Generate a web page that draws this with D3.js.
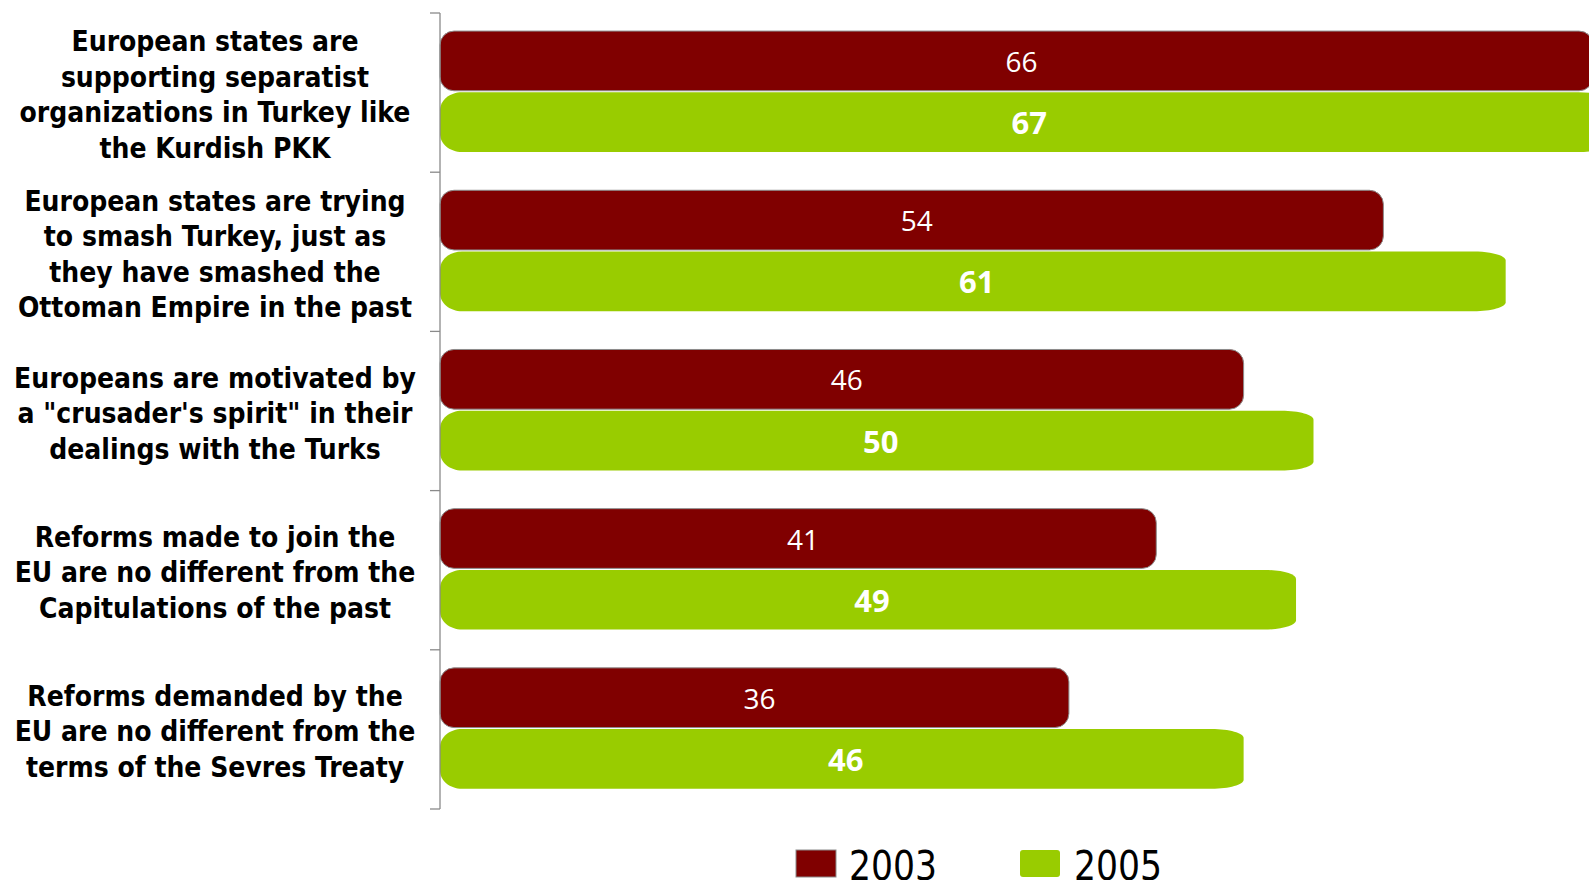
<!DOCTYPE html>
<html>
<head>
<meta charset="utf-8">
<script src="https://cdn.jsdelivr.net/npm/d3@7"></script>
<style>
  html, body { margin: 0; padding: 0; background: #fff; overflow: hidden; }
  svg { display: block; }
</style>
</head>
<body>
<svg id="chart" width="1589" height="880"></svg>
<script>
// ---- data ----
const categories = [
  "European states are supporting separatist organizations in Turkey like the Kurdish PKK",
  "European states are trying to smash Turkey, just as they have smashed the Ottoman Empire in the past",
  "Europeans are motivated by a \"crusader's spirit\" in their dealings with the Turks",
  "Reforms made to join the EU are no different from the Capitulations of the past",
  "Reforms demanded by the EU are no different from the terms of the Sevres Treaty"
];
const categoryLines = [
  ["European states are", "supporting separatist", "organizations in Turkey like", "the Kurdish PKK"],
  ["European states are trying", "to smash Turkey, just as", "they have smashed the", "Ottoman Empire in the past"],
  ["Europeans are motivated by", "a \"crusader's spirit\" in their", "dealings with the Turks"],
  ["Reforms made to join the", "EU are no different from the", "Capitulations of the past"],
  ["Reforms demanded by the", "EU are no different from the", "terms of the Sevres Treaty"]
];
const seriesNames = ["2003", "2005"];
const values2003 = [66, 54, 46, 41, 36];
const values2005 = [67, 61, 50, 49, 46];

// ---- layout ----
const W = 1589, H = 880;
const svg = d3.select("#chart");
const x0 = 440;
const x = d3.scaleLinear().domain([0, 10]).range([x0, x0 + 174.7]);
const y = d3.scaleBand().domain(categories).range([13, 809]).padding(0);
const ySub = d3.scaleBand().domain(seriesNames)
  .range([y.bandwidth() * 0.1135, y.bandwidth() * 0.873]).paddingInner(0.025);

const colors = { "2003": "#800000", "2005": "#99CC00" };

const data = categories.map((c, i) => ({ cat: c, lines: categoryLines[i], v: { "2003": values2003[i], "2005": values2005[i] } }));

// green bar path: soft left corners, flat elliptical right corners
function greenPath(xa, xb, ya, yb) {
  const lrx = 22, lry = 18, rrx = 32, rry = 9;
  const p = d3.path();
  p.moveTo(xa + lrx, ya);
  p.lineTo(xb - rrx, ya);
  p.bezierCurveTo(xb - rrx * 0.45, ya, xb, ya + rry * 0.45, xb, ya + rry);
  p.lineTo(xb, yb - rry);
  p.bezierCurveTo(xb, yb - rry * 0.45, xb - rrx * 0.45, yb, xb - rrx, yb);
  p.lineTo(xa + lrx, yb);
  p.bezierCurveTo(xa + lrx * 0.45, yb, xa, yb - lry * 0.45, xa, yb - lry);
  p.lineTo(xa, ya + lry);
  p.bezierCurveTo(xa, ya + lry * 0.45, xa + lrx * 0.45, ya, xa + lrx, ya);
  p.closePath();
  return p.toString();
}

const g = svg.append("g");

// bars
data.forEach(d => {
  const by = y(d.cat);
  // 2003
  const y03 = by + ySub("2003");
  g.append("rect")
    .attr("x", x(0)).attr("y", y03)
    .attr("width", x(d.v["2003"]) - x(0)).attr("height", ySub.bandwidth())
    .attr("rx", 14).attr("ry", 14)
    .attr("fill", colors["2003"]).attr("stroke", "#8c8c8c").attr("stroke-width", 1);
  g.append("text")
    .attr("x", (x(0) + x(d.v["2003"])) / 2 + 5)
    .attr("y", y03 + ySub.bandwidth() / 2 + 11)
    .attr("text-anchor", "middle")
    .attr("font-family", "'Open Sans', 'DejaVu Sans', sans-serif")
    .attr("font-size", 28).attr("fill", "#fff")
    .text(d.v["2003"]);
  // 2005
  const y05 = by + ySub("2005");
  g.append("path")
    .attr("d", greenPath(x(0), x(d.v["2005"]), y05, y05 + ySub.bandwidth()))
    .attr("fill", colors["2005"]);
  g.append("text")
    .attr("x", (x(0) + x(d.v["2005"])) / 2 + 4)
    .attr("y", y05 + ySub.bandwidth() / 2 + 12)
    .attr("text-anchor", "middle")
    .attr("font-family", "'Open Sans', 'DejaVu Sans', sans-serif")
    .attr("font-weight", "bold")
    .attr("font-size", 31).attr("fill", "#fff")
    .text(d.v["2005"]);
});

// axis
const axis = svg.append("g");
axis.append("line").attr("x1", x0).attr("x2", x0).attr("y1", y.range()[0]).attr("y2", y.range()[1])
  .attr("stroke", "#8a8a8a").attr("stroke-width", 1.3);
const tickYs = categories.map(c => y(c)).concat([y.range()[1]]);
axis.selectAll("line.tick").data(tickYs).enter().append("line")
  .attr("class", "tick")
  .attr("x1", x0 - 10).attr("x2", x0).attr("y1", d => d).attr("y2", d => d)
  .attr("stroke", "#8a8a8a").attr("stroke-width", 1.3);

// category labels
const labelFont = "'DejaVu Sans Condensed', 'DejaVu Sans', sans-serif";
const labels = svg.append("g");
let maxW = 0;
const lineH = 35.5;
const tmpSize = 26;
data.forEach(d => {
  const n = d.lines.length;
  const cy = y(d.cat) + y.bandwidth() / 2;
  d.lines.forEach((ln, j) => {
    const t = labels.append("text")
      .attr("x", 215)
      .attr("y", cy + (j - (n - 1) / 2) * lineH + 12)
      .attr("text-anchor", "middle")
      .attr("font-family", labelFont)
      .attr("font-weight", "bold")
      .attr("font-size", tmpSize)
      .attr("fill", "#000")
      .text(ln);
    maxW = Math.max(maxW, t.node().getComputedTextLength());
  });
});
const fitSize = tmpSize * 402 / maxW;
labels.selectAll("text").attr("font-size", fitSize);

// legend
const legend = svg.append("g");
const legendItems = [
  { name: "2003", sx: 796, tx: 849 },
  { name: "2005", sx: 1020, tx: 1074 }
];
legendItems.forEach(it => {
  legend.append("rect")
    .attr("x", it.sx).attr("y", 850).attr("width", 40).attr("height", 27)
    .attr("rx", it.name === "2005" ? 3 : 0)
    .attr("fill", colors[it.name])
    .attr("stroke", it.name === "2003" ? "#8c8c8c" : "none").attr("stroke-width", 1);
  const t = legend.append("text")
    .attr("x", it.tx).attr("y", 880)
    .attr("font-family", "'DejaVu Sans Condensed', sans-serif")
    .attr("font-size", 40).attr("fill", "#000")
    .text(it.name);
  const w = t.node().getComputedTextLength();
  if (w > 88) t.attr("textLength", 88).attr("lengthAdjust", "spacingAndGlyphs");
});
</script>
</body>
</html>
